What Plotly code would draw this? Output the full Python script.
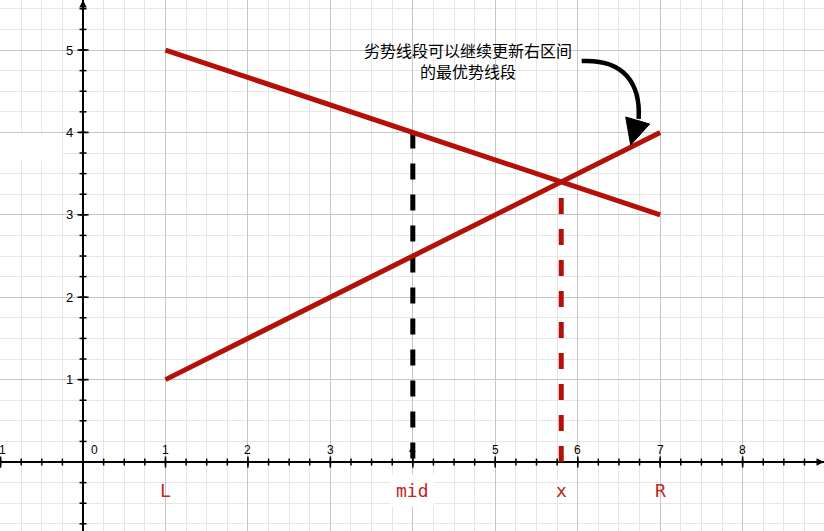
import numpy as np
import plotly.graph_objects as go

# ---- data ----
seg1_x = [1, 7]
seg1_y = [5, 3]
seg2_x = [1, 7]
seg2_y = [1, 4]
mid_x = 4
mid_y = 4
cross_x = 5.8
cross_y = 3.4
x_tick_vals = [-1, 1, 2, 3, 4, 5, 6, 7, 8]
x_tick_text = ["-1", "1", "2", "3", "4", "5", "6", "7", "8"]
y_tick_vals = [1, 2, 3, 4, 5]
y_tick_text = ["1", "2", "3", "4", "5"]
point_names = ["L", "mid", "x", "R"]
point_pos = [1, 4, 5.8, 7]
note_text = "劣势线段可以继续更新右区间<br>的最优势线段"

XR = [-1.007, 8.987]
YR = [-0.837, 5.607]
RED = "#b3100a"
LBL_RED = "#c0261c"

fig = go.Figure()

# dashed verticals (under the red segments)
fig.add_trace(go.Scatter(x=[mid_x, mid_x], y=[mid_y, 0], mode="lines",
                         line=dict(color="black", width=5, dash="16px,15px"),
                         hoverinfo="skip"))
fig.add_trace(go.Scatter(x=[cross_x, cross_x], y=[0, cross_y], mode="lines",
                         line=dict(color=RED, width=5, dash="16px,15px"),
                         hoverinfo="skip"))
# red segments
fig.add_trace(go.Scatter(x=seg1_x, y=seg1_y, mode="lines",
                         line=dict(color=RED, width=5), hoverinfo="skip"))
fig.add_trace(go.Scatter(x=seg2_x, y=seg2_y, mode="lines",
                         line=dict(color=RED, width=5), hoverinfo="skip"))

# axis tick marks
xt = np.arange(-1, 9.0, 0.25)
xt = xt[xt != 0]
yt = np.arange(-0.75, 5.6, 0.25)
yt = yt[yt != 0]
fig.add_trace(go.Scatter(x=xt, y=np.zeros_like(xt), mode="markers",
                         marker=dict(symbol="line-ns", size=5,
                                     line=dict(color="black", width=1.5)),
                         hoverinfo="skip"))
fig.add_trace(go.Scatter(x=np.zeros_like(yt), y=yt, mode="markers",
                         marker=dict(symbol="line-ew", size=5,
                                     line=dict(color="black", width=1.5)),
                         hoverinfo="skip"))
fig.add_trace(go.Scatter(x=x_tick_vals, y=[0] * len(x_tick_vals), mode="markers",
                         marker=dict(symbol="line-ns", size=8,
                                     line=dict(color="black", width=1.5)),
                         hoverinfo="skip"))
fig.add_trace(go.Scatter(x=[0] * len(y_tick_vals), y=y_tick_vals, mode="markers",
                         marker=dict(symbol="line-ew", size=8,
                                     line=dict(color="black", width=1.5)),
                         hoverinfo="skip"))

annotations = []
num_font = dict(family="Liberation Sans, Arial, sans-serif", size=12, color="black")
for v, t in zip(x_tick_vals, x_tick_text):
    annotations.append(dict(x=v, y=0, xref="x", yref="y", text=t, showarrow=False,
                            yshift=12, font=num_font))
annotations.append(dict(x=0, y=0, xref="x", yref="y", text="0", showarrow=False,
                        xshift=11, yshift=12, font=num_font))
for v, t in zip(y_tick_vals, y_tick_text):
    annotations.append(dict(x=0, y=v, xref="x", yref="y", text=t, showarrow=False,
                            xshift=-14, font=dict(num_font, size=13)))

for name, p in zip(point_names, point_pos):
    annotations.append(dict(x=p, y=0, xref="x", yref="y", text=name, showarrow=False,
                            yshift=-28,
                            bgcolor="white" if name == "mid" else "rgba(0,0,0,0)",
                            borderpad=5,
                            font=dict(family="DejaVu Sans Mono, monospace", size=18,
                                      color=LBL_RED)))

annotations.append(dict(x=4.67, y=4.875, xref="x", yref="y", text=note_text,
                        showarrow=False, align="center",
                        font=dict(family="Noto Sans CJK SC", size=16, color="black")))

# axis arrow heads
annotations.append(dict(x=XR[1], y=0, xref="x", yref="y", ax=-14, ay=0, text="",
                        showarrow=True, arrowhead=2, arrowsize=1, arrowwidth=1.5,
                        arrowcolor="black"))
annotations.append(dict(x=0, y=YR[1], xref="x", yref="y", ax=0, ay=14, text="",
                        showarrow=True, arrowhead=2, arrowsize=1, arrowwidth=1.5,
                        arrowcolor="black"))

shapes = [
    # white patch at the left
    dict(type="rect", xref="x", yref="y", x0=XR[0], x1=-0.255, y0=3.66, y1=3.99,
         fillcolor="white", line=dict(width=0), layer="between"),
    # curved arrow pointing to the rising segment
    dict(type="path", xref="x", yref="y",
         path="M 6.048,4.866 C 6.57,4.891 6.764,4.587 6.739,4.163",
         line=dict(color="black", width=4.5), layer="above"),
    dict(type="path", xref="x", yref="y",
         path="M 6.582,4.187 L 6.873,4.102 L 6.642,3.847 Z",
         fillcolor="black", line=dict(color="black", width=1), layer="above"),
]

axis_common = dict(showticklabels=False, ticks="", dtick=1, tick0=0,
                   showgrid=True, gridcolor="#c6c6c6", gridwidth=1,
                   minor=dict(dtick=0.25, tick0=0, showgrid=True,
                              gridcolor="#e6e6e6", gridwidth=1),
                   zeroline=True, zerolinecolor="black", zerolinewidth=2,
                   showline=False, fixedrange=True)

fig.update_layout(
    width=824, height=531,
    margin=dict(l=0, r=0, t=0, b=0),
    plot_bgcolor="white", paper_bgcolor="white",
    showlegend=False,
    xaxis=dict(axis_common, range=XR),
    yaxis=dict(axis_common, range=YR),
    annotations=annotations,
    shapes=shapes,
)

fig.write_html("out.html",
               config={"displayModeBar": False, "staticPlot": True},
               post_script="document.body.style.margin='0';"
                           "document.body.style.overflow='hidden';")
